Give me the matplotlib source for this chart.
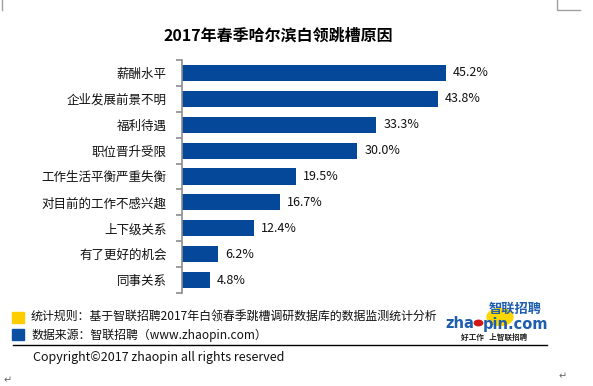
import matplotlib
matplotlib.use("Agg")
import matplotlib.pyplot as plt
from matplotlib.patches import Rectangle, Circle
from matplotlib.lines import Line2D

plt.rcParams['font.family'] = ['Noto Sans CJK SC', 'DejaVu Sans']

title = "2017年春季哈尔滨白领跳槽原因"
reasons = ["薪酬水平", "企业发展前景不明", "福利待遇", "职位晋升受限", "工作生活平衡严重失衡",
           "对目前的工作不感兴趣", "上下级关系", "有了更好的机会", "同事关系"]
shares = [45.2, 43.8, 33.3, 30.0, 19.5, 16.7, 12.4, 6.2, 4.8]
note_rule = "统计规则：基于智联招聘2017年白领春季跳槽调研数据库的数据监测统计分析"
note_source = "数据来源：智联招聘（www.zhaopin.com）"
copyright_text = "Copyright©2017 zhaopin all rights reserved"

W, H = 593, 386
fig = plt.figure(figsize=(W / 100, H / 100), dpi=100)

def px(x, y):
    return x / W, 1 - y / H

ax = fig.add_axes([182 / W, 1 - 293 / H, 292 / W, 233 / H])
ypos = list(range(len(reasons)))
ax.barh(ypos, shares, height=0.62, color='#05489A')
ax.set_xlim(0, 50)
ax.set_ylim(len(reasons) - 0.5, -0.5)
for s in ['top', 'right', 'bottom']:
    ax.spines[s].set_visible(False)
ax.spines['left'].set_color('#8c8c8c')
ax.spines['left'].set_linewidth(1.2)
ax.set_xticks([])
ax.set_yticks(ypos)
ax.set_yticklabels(reasons, fontsize=9, color='#111111')
ax.tick_params(axis='y', which='major', length=0, pad=11)
ax.set_yticks([i - 0.5 for i in range(len(reasons) + 1)], minor=True)
ax.tick_params(axis='y', which='minor', length=4, width=1.2, color='#8c8c8c')
for y, v in zip(ypos, shares):
    ax.annotate(f"{v:.1f}%", (v, y), xytext=(5, 0), textcoords='offset points',
                va='center', ha='left', fontsize=9, color='#111111')

# title
fig.text(*px(278, 36), title, ha='center', va='center', fontsize=11.5, fontweight='bold')

# footnotes
fig.patches.append(Rectangle(px(12, 323), 12 / W, 11 / H, transform=fig.transFigure, color='#FFCC00'))
fig.patches.append(Rectangle(px(12, 340), 12 / W, 11 / H, transform=fig.transFigure, color='#0B4EA2'))
fig.text(*px(31, 317), note_rule, ha='left', va='center', fontsize=8.6, color='#111111')
fig.text(*px(31, 335), note_source, ha='left', va='center', fontsize=8.6, color='#111111')
fig.lines.append(Line2D([13 / W, 547 / W], [1 - 345 / H] * 2, transform=fig.transFigure,
                        color='black', linewidth=1))
fig.text(*px(33, 358), copyright_text, ha='left', va='center', fontsize=9, color='#111111')

# logo
fig.patches.append(Circle(px(500, 317), 13 / W, transform=fig.transFigure, color='#FFD700',
                          zorder=1))
fig.text(*px(542, 309), "智联招聘", ha='right', va='center', fontsize=9.5, fontweight='bold',
         color='#1F5DAF', zorder=3)
fig.text(*px(474, 324), "zha", ha='right', va='center', fontsize=10.5, fontweight='bold',
         family='DejaVu Sans', color='#1F5DAF', zorder=3)
fig.text(*px(483, 324), "pin.com", ha='left', va='center', fontsize=10.5, fontweight='bold',
         family='DejaVu Sans', color='#1F5DAF', zorder=3)
fig.patches.append(Circle(px(478.5, 323), 4.2 / W, transform=fig.transFigure, color='#D01818',
                          zorder=4))
fig.text(*px(494, 337), "好工作   上智联招聘", ha='center', va='center', fontsize=5.5,
         fontweight='bold', color='#222222')

# page marks
g = '#a0a0a0'
fig.lines.append(Line2D([1.5 / W, 1.5 / W], [1, 1 - 10 / H], transform=fig.transFigure, color=g, lw=1))
fig.lines.append(Line2D([557 / W, 557 / W, 580 / W], [1, 1 - 10 / H, 1 - 10 / H],
                        transform=fig.transFigure, color=g, lw=1))
fig.text(*px(8, 380), "↵", ha='center', va='center', fontsize=7, color='#666666',
         family='DejaVu Sans')
fig.text(*px(563, 376), "↵", ha='center', va='center', fontsize=7, color='#666666',
         family='DejaVu Sans')

fig.savefig("out.png", dpi=100)
